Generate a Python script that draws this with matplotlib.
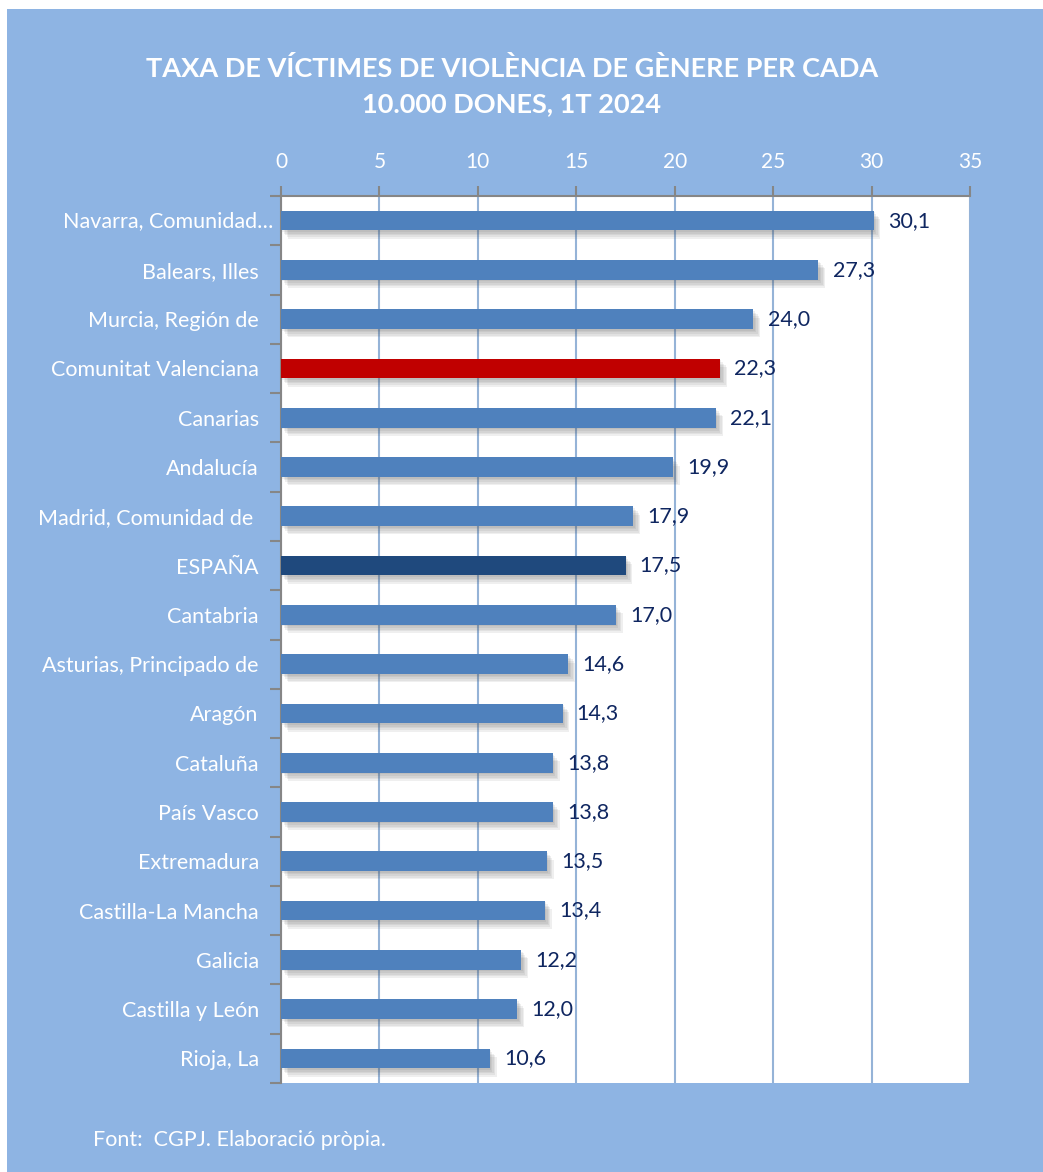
import matplotlib
matplotlib.use("Agg")
import matplotlib.pyplot as plt
import matplotlib.patheffects as pe
import matplotlib.transforms as mtrans
from matplotlib.patches import Rectangle

categories = ["Navarra, Comunidad…", "Balears, Illes", "Murcia, Región de", "Comunitat Valenciana",
              "Canarias", "Andalucía", "Madrid, Comunidad de ", "ESPAÑA", "Cantabria",
              "Asturias, Principado de", "Aragón", "Cataluña", "País Vasco", "Extremadura",
              "Castilla-La Mancha", "Galicia", "Castilla y León", "Rioja, La"]
values = [30.1, 27.3, 24.0, 22.3, 22.1, 19.9, 17.9, 17.5, 17.0, 14.6, 14.3, 13.8, 13.8, 13.5,
          13.4, 12.2, 12.0, 10.6]
xticks = [0, 5, 10, 15, 20, 25, 30, 35]
title = "TAXA DE VÍCTIMES DE VIOLÈNCIA DE GÈNERE PER CADA\n10.000 DONES, 1T 2024"
source = "Font:  CGPJ. Elaboració pròpia."

BG = "#8EB4E3"
BAR = "#4F81BD"
RED = "#C00000"
DARK = "#1F497D"
LABEL = "#0F2660"

plt.rcParams['font.family'] = ['Lato', 'DejaVu Sans']

W, H = 1043, 1172
fig = plt.figure(figsize=(W / 100, H / 100), dpi=100, facecolor="white")
fig.patches.append(Rectangle((7 / W, 0), 1 - 7 / W, 1 - 9 / H, transform=fig.transFigure,
                             facecolor=BG, edgecolor="none", zorder=-10))

ax = fig.add_axes([281 / W, 1 - 1083 / H, (970 - 281) / W, (1083 - 196) / H])
ax.set_facecolor("white")

n = len(categories)
ypos = list(range(n))
colors = []
for c in categories:
    if c.startswith("Comunitat Valenciana"):
        colors.append(RED)
    elif c == "ESPAÑA":
        colors.append(DARK)
    else:
        colors.append(BAR)

shadow = [pe.SimplePatchShadow(offset=(d, -d * 1.2), shadow_rgbFace="#555555", alpha=0.09)
          for d in (1.0, 2.0, 3.0, 4.0, 5.0)] + [pe.Normal()]
bars = ax.barh(ypos, values, height=0.40, color=colors, zorder=3)
for b in bars:
    b.set_path_effects(shadow)

for y, v in zip(ypos, values):
    ax.text(v + 0.72, y, f"{v:.1f}".replace(".", ","), va="center", ha="left",
            fontsize=15.5, color=LABEL, zorder=5)

ax.set_xlim(0, 35)
ax.set_ylim(n - 0.5, -0.5)
ax.xaxis.tick_top()
ax.set_xticks(xticks)
ax.set_xticklabels([str(t) for t in xticks])
ax.tick_params(axis="x", colors="#868686", labelcolor="white", labelsize=15, length=7,
               width=1.5, pad=10, direction="out")
ax.grid(axis="x", color="#95B3D7", linewidth=1.5, zorder=0)
ax.set_axisbelow(True)

# first label (truncated in the source) sits closer to the axis
ax.set_yticks(ypos)
ax.set_yticklabels([""] + categories[1:])
ax.tick_params(axis="y", which="major", length=0, labelcolor="white", labelsize=15.5, pad=16)
trans = ax.get_yaxis_transform() + mtrans.ScaledTranslation(-8 / 100, 0, fig.dpi_scale_trans)
ax.text(0, ypos[0], categories[0], transform=trans, ha="right", va="center",
        fontsize=15.5, color="white")
ax.set_yticks([i - 0.5 for i in range(n + 1)], minor=True)
ax.tick_params(axis="y", which="minor", length=8, width=1.5, color="#868686", direction="out")

for s in ("right", "bottom"):
    ax.spines[s].set_visible(False)
for s in ("top", "left"):
    ax.spines[s].set_color("#868686")
    ax.spines[s].set_linewidth(1.5)

fig.text(512 / W, 1 - 86 / H, title, ha="center", va="center", fontsize=19.5,
         fontweight="bold", color="white", linespacing=1.55)
fig.text(93 / W, 1 - 1140 / H, source, ha="left", va="center", fontsize=15.5, color="white")

fig.savefig("out.png", dpi=100, facecolor=fig.get_facecolor())
